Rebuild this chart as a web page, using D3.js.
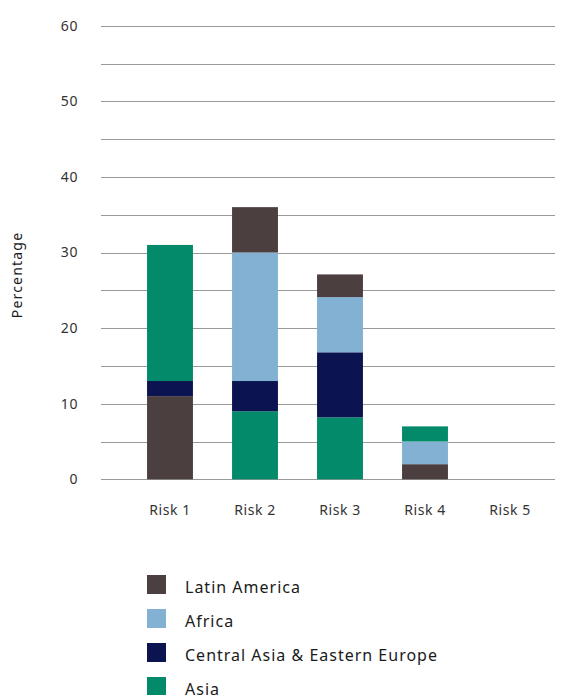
<!DOCTYPE html>
<html lang="en">
<head>
<meta charset="UTF-8">
<title>Risk by region</title>
<style>
    body {
        margin: 0;
        background: #fff;
        font-family: "Noto Sans", "Open Sans", sans-serif;
    }
    .tick-label { fill: #333; font-size: 14px; letter-spacing: 0.6px; }
    .legend-label { fill: #1a1a1a; font-size: 16px; letter-spacing: 1px; }
</style>
<script src="https://d3js.org/d3.v7.min.js"></script>
</head>
<body>
<div id="chart"></div>
<script>
// data
var risks = ["Risk 1", "Risk 2", "Risk 3", "Risk 4", "Risk 5"];
var regions = ["Latin America", "Africa", "Central Asia & Eastern Europe", "Asia"];
var latinAmerica = [11, 6, 3, 2, 0];
var africa = [0, 17, 7.3, 3, 0];
var centralAsia = [2, 4, 8.6, 0, 0];
var asia = [18, 9, 8.2, 2, 0];
// stacking order bottom -> top for each risk
var stackOrder = [
    ["Latin America", "Africa", "Central Asia & Eastern Europe", "Asia"],
    ["Asia", "Central Asia & Eastern Europe", "Africa", "Latin America"],
    ["Asia", "Central Asia & Eastern Europe", "Africa", "Latin America"],
    ["Latin America", "Africa", "Central Asia & Eastern Europe", "Asia"],
    ["Latin America", "Africa", "Central Asia & Eastern Europe", "Asia"]
];
var yTicks = [0, 5, 10, 15, 20, 25, 30, 35, 40, 45, 50, 55, 60];

var colors = {
    "Latin America": "#4b3f3f",
    "Africa": "#82b1d4",
    "Central Asia & Eastern Europe": "#0b1450",
    "Asia": "#028a6a"
};
var seriesValues = {
    "Latin America": latinAmerica,
    "Africa": africa,
    "Central Asia & Eastern Europe": centralAsia,
    "Asia": asia
};

var width = 569, height = 695;

var svg = d3.select("#chart").append("svg")
    .attr("width", width)
    .attr("height", height);

var x = d3.scaleBand()
    .domain(risks)
    .range([127.5, 552.5])
    .paddingInner(0.46)
    .paddingOuter(0.23);

var y = d3.scaleLinear()
    .domain([0, 60])
    .range([479.3, 25.7]);

// gridlines
svg.append("g")
    .selectAll("line")
    .data(yTicks)
    .enter()
    .append("line")
    .attr("x1", 101)
    .attr("x2", 555)
    .attr("y1", function(d) { return Math.round(y(d)) + 0.5; })
    .attr("y2", function(d) { return Math.round(y(d)) + 0.5; })
    .attr("stroke", "#9a9a9a")
    .attr("stroke-width", 1);

// y labels every 10
svg.append("g")
    .selectAll("text")
    .data(yTicks.filter(function(d) { return d % 10 === 0; }))
    .enter()
    .append("text")
    .attr("class", "tick-label")
    .attr("x", 78)
    .attr("y", function(d) { return y(d); })
    .attr("dy", "0.35em")
    .attr("text-anchor", "end")
    .text(function(d) { return d; });

// y title
svg.append("text")
    .attr("class", "tick-label")
    .attr("transform", "translate(22," + 275 + ")rotate(-90)")
    .attr("text-anchor", "middle")
    .style("font-size", "14px")
    .style("letter-spacing", "1.2px")
    .style("fill", "#1a1a1a")
    .text("Percentage");

// stacked bars
var segments = [];
risks.forEach(function(risk, i) {
    var base = 0;
    stackOrder[i].forEach(function(region) {
        var v = seriesValues[region][i];
        if (v > 0) {
            segments.push({ risk: risk, region: region, y0: base, y1: base + v });
        }
        base += v;
    });
});

svg.append("g")
    .selectAll("rect")
    .data(segments)
    .enter()
    .append("rect")
    .attr("x", function(d) { return x(d.risk); })
    .attr("width", x.bandwidth())
    .attr("y", function(d) { return y(d.y1); })
    .attr("height", function(d) { return y(d.y0) - y(d.y1); })
    .attr("fill", function(d) { return colors[d.region]; });

// x labels
svg.append("g")
    .selectAll("text")
    .data(risks)
    .enter()
    .append("text")
    .attr("class", "tick-label")
    .attr("x", function(d) { return x(d) + x.bandwidth() / 2; })
    .attr("y", 515)
    .attr("text-anchor", "middle")
    .text(function(d) { return d; });

// legend
var legend = svg.append("g")
    .selectAll("g")
    .data(regions)
    .enter()
    .append("g")
    .attr("transform", function(d, i) { return "translate(147," + (575 + i * 34) + ")"; });

legend.append("rect")
    .attr("width", 19)
    .attr("height", 19)
    .attr("fill", function(d) { return colors[d]; });

legend.append("text")
    .attr("class", "legend-label")
    .attr("x", 38)
    .attr("y", 12)
    .attr("dy", "0.35em")
    .text(function(d) { return d; });
</script>
</body>
</html>
